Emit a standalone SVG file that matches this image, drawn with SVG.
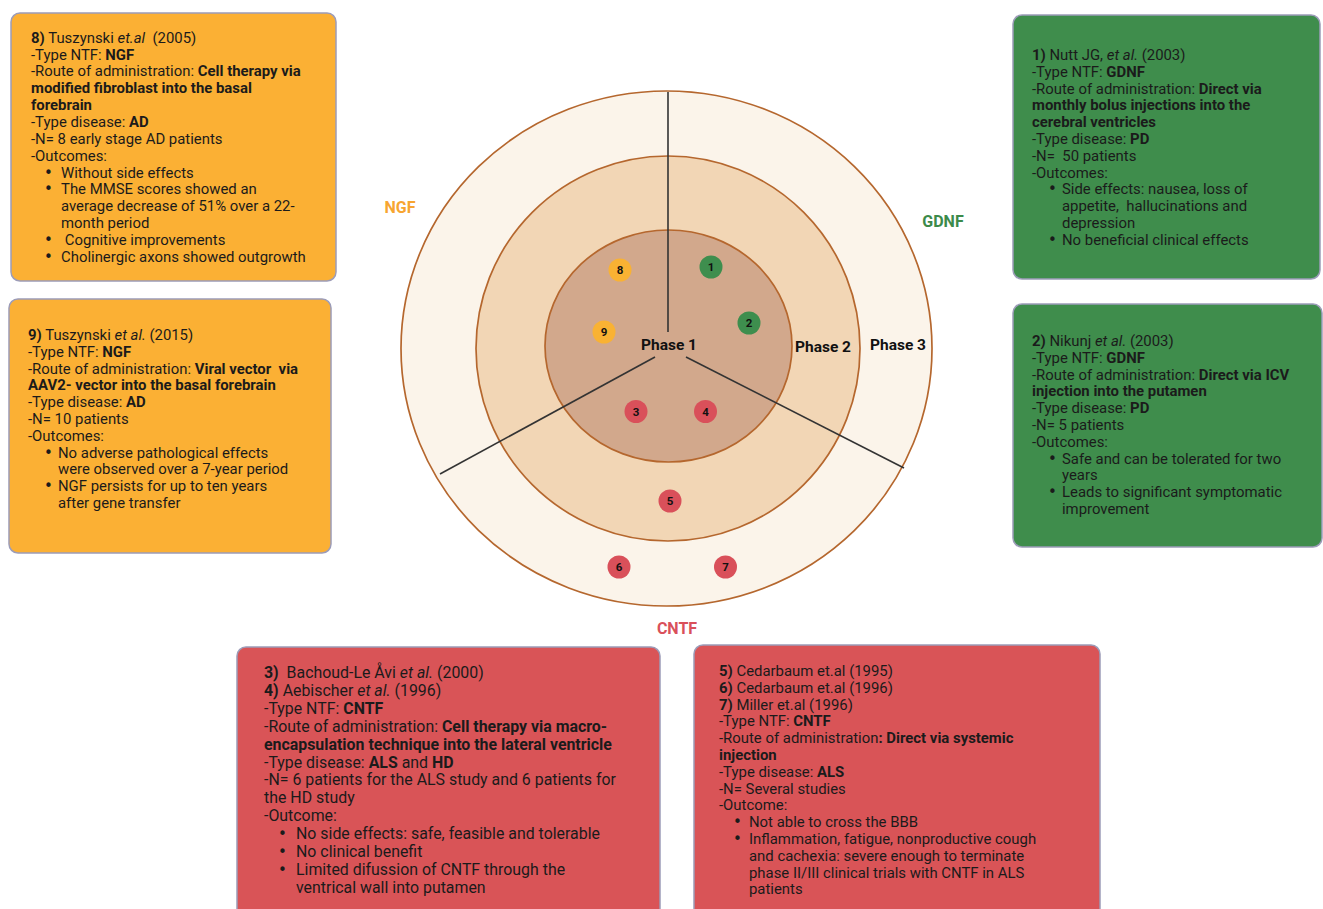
<svg xmlns="http://www.w3.org/2000/svg" width="1323" height="909" viewBox="0 0 1323 909">
<style>
.t{font-family:Roboto,"Liberation Sans",sans-serif;font-size:14.9px;fill:#1b1b1b;white-space:pre}
.tl{font-family:Roboto,"Liberation Sans",sans-serif;font-size:15.9px;fill:#1b1b1b;white-space:pre}
.bu{font-family:"DejaVu Sans","Liberation Sans",sans-serif;font-size:15px;fill:#1b1b1b}
.b{font-weight:bold}
.i{font-style:italic}
.box{stroke:#9c9cb8;stroke-width:1.5}
.or{fill:#FBB034}
.gr{fill:#3F8D4C}
.rd{fill:#D95457}
.ring{stroke:#B5672E;stroke-width:1.7}
.ph{font-family:Roboto,"Liberation Sans",sans-serif;font-size:15.5px;font-weight:bold;fill:#111;text-anchor:middle}
.lab{font-family:Roboto,"Liberation Sans",sans-serif;font-size:16px;font-weight:bold;text-anchor:middle}
.num{font-family:Roboto,"Liberation Sans",sans-serif;font-size:11.5px;font-weight:bold;fill:#111;text-anchor:middle}
.div{stroke:#333;stroke-width:1.6;fill:none}
</style>
<rect width="1323" height="909" fill="#ffffff"/>

<g id="rings">
<ellipse cx="666.5" cy="348.5" rx="265.5" ry="257.5" fill="#FBF4EA" class="ring"/>
<ellipse cx="668" cy="348.5" rx="192" ry="192.5" fill="#F2D6B5" class="ring"/>
<ellipse cx="668.5" cy="346" rx="123.5" ry="116" fill="#D2A88C" class="ring"/>
</g>

<g id="connectors">
<line x1="668" y1="92" x2="668" y2="332" class="div"/>
<line x1="655" y1="357" x2="440" y2="474" class="div"/>
<line x1="686" y1="357" x2="904" y2="468" class="div"/>
</g>

<g id="phase-labels">
<text x="669" y="350" class="ph">Phase 1</text>
<text x="823" y="352" class="ph">Phase 2</text>
<text x="898" y="350" class="ph">Phase 3</text>
</g>

<g id="ntf-labels">
<text x="400" y="213" class="lab" fill="#F7A531">NGF</text>
<text x="943" y="227" class="lab" fill="#3C8A4A">GDNF</text>
<text x="677" y="634" class="lab" fill="#D9505A">CNTF</text>
</g>

<g id="badge-8"><circle cx="620" cy="270" r="11.5" fill="#F9B233"/><text x="620" y="274" class="num">8</text></g>
<g id="badge-9"><circle cx="604" cy="332" r="11.5" fill="#F9B233"/><text x="604" y="336" class="num">9</text></g>
<g id="badge-1"><circle cx="711" cy="267" r="11.5" fill="#3E8E4E"/><text x="711" y="271" class="num">1</text></g>
<g id="badge-2"><circle cx="749" cy="323" r="11.5" fill="#3E8E4E"/><text x="749" y="327" class="num">2</text></g>
<g id="badge-3"><circle cx="636" cy="411.5" r="11.5" fill="#D9505A"/><text x="636" y="415.5" class="num">3</text></g>
<g id="badge-4"><circle cx="705.5" cy="411.5" r="11.5" fill="#D9505A"/><text x="705.5" y="415.5" class="num">4</text></g>
<g id="badge-5"><circle cx="670" cy="501" r="11.5" fill="#D9505A"/><text x="670" y="505" class="num">5</text></g>
<g id="badge-6"><circle cx="619" cy="567" r="11.5" fill="#D9505A"/><text x="619" y="571" class="num">6</text></g>
<g id="badge-7"><circle cx="725.5" cy="567" r="11.5" fill="#D9505A"/><text x="725.5" y="571" class="num">7</text></g>

<g id="box-8">
<rect x="11" y="13" width="325" height="268" rx="9" class="box or"/>
<text class="t" x="31" y="42.7"><tspan class="b">8)</tspan> Tuszynski <tspan class="i">et.al</tspan>  (2005)</text>
<text class="t" x="31" y="59.5">-Type NTF: <tspan class="b">NGF</tspan></text>
<text class="t" x="31" y="76.4">-Route of administration: <tspan class="b">Cell therapy via</tspan></text>
<text class="t b" x="31" y="93.2">modified fibroblast into the basal</text>
<text class="t b" x="31" y="110.1">forebrain</text>
<text class="t" x="31" y="126.9">-Type disease: <tspan class="b">AD</tspan></text>
<text class="t" x="31" y="143.8">-N= 8 early stage AD patients</text>
<text class="t" x="31" y="160.6">-Outcomes:</text>
<text class="bu" x="44" y="177.5">•</text><text class="t" x="61" y="177.5">Without side effects</text>
<text class="bu" x="44" y="194.3">•</text><text class="t" x="61" y="194.3">The MMSE scores showed an</text>
<text class="t" x="61" y="211.2">average decrease of 51% over a 22-</text>
<text class="t" x="61" y="228">month period</text>
<text class="bu" x="44" y="244.9">•</text><text class="t" x="61" y="244.9"> Cognitive improvements</text>
<text class="bu" x="44" y="261.7">•</text><text class="t" x="61" y="261.7">Cholinergic axons showed outgrowth</text>
</g>

<g id="box-9">
<rect x="9" y="299" width="322" height="254" rx="9" class="box or"/>
<text class="t" x="28" y="340"><tspan class="b">9)</tspan> Tuszynski <tspan class="i">et al.</tspan> (2015)</text>
<text class="t" x="28" y="356.8">-Type NTF: <tspan class="b">NGF</tspan></text>
<text class="t" x="28" y="373.6">-Route of administration: <tspan class="b">Viral vector  via</tspan></text>
<text class="t b" x="28" y="390.4">AAV2- vector into the basal forebrain</text>
<text class="t" x="28" y="407.2">-Type disease: <tspan class="b">AD</tspan></text>
<text class="t" x="28" y="424">-N= 10 patients</text>
<text class="t" x="28" y="440.8">-Outcomes:</text>
<text class="bu" x="44" y="457.6">•</text><text class="t" x="58" y="457.6">No adverse pathological effects</text>
<text class="t" x="58" y="474.4">were observed over a 7-year period</text>
<text class="bu" x="44" y="491.2">•</text><text class="t" x="58" y="491.2">NGF persists for up to ten years</text>
<text class="t" x="58" y="508">after gene transfer</text>
</g>

<g id="box-1">
<rect x="1013" y="15" width="307" height="264" rx="9" class="box gr"/>
<text class="t" x="1032" y="60"><tspan class="b">1)</tspan> Nutt JG, <tspan class="i">et al.</tspan> (2003)</text>
<text class="t" x="1032" y="76.8">-Type NTF: <tspan class="b">GDNF</tspan></text>
<text class="t" x="1032" y="93.6">-Route of administration: <tspan class="b">Direct via</tspan></text>
<text class="t b" x="1032" y="110.4">monthly bolus injections into the</text>
<text class="t b" x="1032" y="127.2">cerebral ventricles</text>
<text class="t" x="1032" y="144">-Type disease: <tspan class="b">PD</tspan></text>
<text class="t" x="1032" y="160.8">-N=  50 patients</text>
<text class="t" x="1032" y="177.6">-Outcomes:</text>
<text class="bu" x="1048" y="194.4">•</text><text class="t" x="1062" y="194.4">Side effects: nausea, loss of</text>
<text class="t" x="1062" y="211.2">appetite,  hallucinations and</text>
<text class="t" x="1062" y="228">depression</text>
<text class="bu" x="1048" y="244.8">•</text><text class="t" x="1062" y="244.8">No beneficial clinical effects</text>
</g>

<g id="box-2">
<rect x="1013" y="304" width="309" height="243" rx="9" class="box gr"/>
<text class="t" x="1032" y="346"><tspan class="b">2)</tspan> Nikunj <tspan class="i">et al.</tspan> (2003)</text>
<text class="t" x="1032" y="362.8">-Type NTF: <tspan class="b">GDNF</tspan></text>
<text class="t" x="1032" y="379.6">-Route of administration: <tspan class="b">Direct via ICV</tspan></text>
<text class="t b" x="1032" y="396.4">injection into the putamen</text>
<text class="t" x="1032" y="413.2">-Type disease: <tspan class="b">PD</tspan></text>
<text class="t" x="1032" y="430">-N= 5 patients</text>
<text class="t" x="1032" y="446.8">-Outcomes:</text>
<text class="bu" x="1048" y="463.6">•</text><text class="t" x="1062" y="463.6">Safe and can be tolerated for two</text>
<text class="t" x="1062" y="480.4">years</text>
<text class="bu" x="1048" y="497.2">•</text><text class="t" x="1062" y="497.2">Leads to significant symptomatic</text>
<text class="t" x="1062" y="514">improvement</text>
</g>

<g id="box-3-4">
<rect x="237" y="647" width="423" height="275" rx="9" class="box rd"/>
<text class="tl" x="264" y="678"><tspan class="b">3)</tspan>  Bachoud-Le Åvi <tspan class="i">et al.</tspan> (2000)</text>
<text class="tl" x="264" y="695.9"><tspan class="b">4)</tspan> Aebischer <tspan class="i">et al.</tspan> (1996)</text>
<text class="tl" x="264" y="713.8">-Type NTF: <tspan class="b">CNTF</tspan></text>
<text class="tl" x="264" y="731.7">-Route of administration: <tspan class="b">Cell therapy via macro-</tspan></text>
<text class="tl b" x="264" y="749.6">encapsulation technique into the lateral ventricle</text>
<text class="tl" x="264" y="767.5">-Type disease: <tspan class="b">ALS</tspan> and <tspan class="b">HD</tspan></text>
<text class="tl" x="264" y="785.4">-N= 6 patients for the ALS study and 6 patients for</text>
<text class="tl" x="264" y="803.3">the HD study</text>
<text class="tl" x="264" y="821.2">-Outcome:</text>
<text class="bu" x="278" y="839.1">•</text><text class="tl" x="296" y="839.1">No side effects: safe, feasible and tolerable</text>
<text class="bu" x="278" y="857">•</text><text class="tl" x="296" y="857">No clinical benefit</text>
<text class="bu" x="278" y="874.9">•</text><text class="tl" x="296" y="874.9">Limited difussion of CNTF through the</text>
<text class="tl" x="296" y="892.8">ventrical wall into putamen</text>
</g>

<g id="box-5-7">
<rect x="694" y="645" width="406" height="277" rx="9" class="box rd"/>
<text class="t" x="719" y="676"><tspan class="b">5)</tspan> Cedarbaum et.al (1995)</text>
<text class="t" x="719" y="692.8"><tspan class="b">6)</tspan> Cedarbaum et.al (1996)</text>
<text class="t" x="719" y="709.6"><tspan class="b">7)</tspan> Miller et.al (1996)</text>
<text class="t" x="719" y="726.4">-Type NTF: <tspan class="b">CNTF</tspan></text>
<text class="t" x="719" y="743.2">-Route of administration<tspan class="b">: Direct via systemic</tspan></text>
<text class="t b" x="719" y="760">injection</text>
<text class="t" x="719" y="776.8">-Type disease: <tspan class="b">ALS</tspan></text>
<text class="t" x="719" y="793.6">-N= Several studies</text>
<text class="t" x="719" y="810.4">-Outcome:</text>
<text class="bu" x="733" y="827.2">•</text><text class="t" x="749" y="827.2">Not able to cross the BBB</text>
<text class="bu" x="733" y="844">•</text><text class="t" x="749" y="844">Inflammation, fatigue, nonproductive cough</text>
<text class="t" x="749" y="860.8">and cachexia: severe enough to terminate</text>
<text class="t" x="749" y="877.6">phase II/III clinical trials with CNTF in ALS</text>
<text class="t" x="749" y="894.4">patients</text>
</g>
</svg>
